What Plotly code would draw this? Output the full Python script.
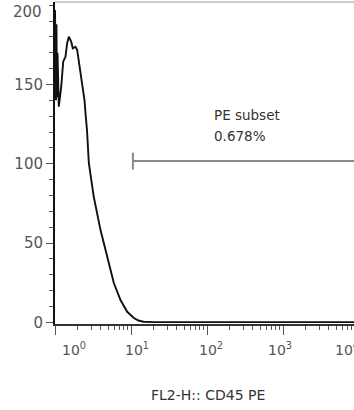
import math
import plotly.graph_objects as go

# ---- data ----
fl2_intensity = [1.0, 1.008, 1.016, 1.03, 1.045, 1.06, 1.079, 1.10, 1.122, 1.208, 1.282, 1.374,
                 1.445, 1.521, 1.633, 1.714, 1.862, 1.959, 2.118, 2.280, 2.443, 2.518,
                 2.636, 2.786, 3.236, 3.972, 4.864, 5.943, 7.278, 8.913, 10.89, 12.55,
                 14.59, 20.0, 50.0, 100.0, 1000.0, 10000.0]
cell_count = [197, 150, 192, 140, 188, 142, 170, 138, 136, 148.6, 164.4, 167.5,
              176, 180.1, 177, 172.8, 173.8, 171.7, 161.2, 150.7, 140.2, 132,
              121.3, 100.5, 79.2, 58.2, 41.4, 24.8, 14.1, 6.7, 2.8, 1.2,
              0.4, 0.2, 0.2, 0.2, 0.2, 0.2]

y_tick_vals = [0, 50, 100, 150, 200]
y_tick_labels = ["0", "50", "100", "150", "200"]
y_minor_vals = [v for v in range(0, 201, 10)]
x_decades = [0, 1, 2, 3, 4]
x_tick_labels = ["10<sup>0</sup>", "10<sup>1</sup>", "10<sup>2</sup>", "10<sup>3</sup>", "10<sup>4</sup>"]
x_minor_vals = [m * 10 ** d for d in range(0, 4) for m in range(2, 10)]

gate_low = 10.6
gate_high = 100000
gate_level = 101.7
gate_name = "PE subset"
gate_percent = "0.678%"
axis_title = "FL2-H:: CD45 PE"

# ---- style ----
W, H = 354, 410
ML, MR, MT, MB = 55, 0, 2, 86
x_max_log = (W - ML) / 76.0
label_xshift = [5, -8, -10, -17, -26]
FONT = "DejaVu Sans"
GREY = "#555555"
TEXT = "#333333"

fig = go.Figure()
fig.add_trace(go.Scatter(
    x=fl2_intensity, y=cell_count, mode="lines",
    line=dict(color="#111111", width=1.9), hoverinfo="skip", showlegend=False))
fig.add_trace(go.Scatter(
    x=[gate_low, gate_high], y=[gate_level, gate_level], mode="lines+markers",
    line=dict(color="#8a8a8a", width=2),
    marker=dict(symbol="line-ns", size=12, line=dict(color="#8a8a8a", width=2)),
    hoverinfo="skip", showlegend=False))

# the top label (200) is drawn as an annotation so it can sit below the frame edge
shown_y_labels = [lab if v < 200 else "" for v, lab in zip(y_tick_vals, y_tick_labels)]

fig.update_layout(
    width=W, height=H, margin=dict(l=ML, r=MR, t=MT, b=MB),
    paper_bgcolor="white", plot_bgcolor="white",
    font=dict(family=FONT, color=GREY, size=14),
    xaxis=dict(type="log", range=[0, x_max_log], showgrid=False, zeroline=False,
               showline=True, linecolor="#333333", linewidth=2,
               tickmode="array", tickvals=[10 ** d for d in x_decades], ticktext=[""] * 5,
               ticks="outside", ticklen=9, tickwidth=1, tickcolor=GREY,
               minor=dict(tickmode="array", tickvals=x_minor_vals, ticks="outside",
                          ticklen=4, tickwidth=1, tickcolor=GREY)),
    yaxis=dict(range=[-1, 202], showgrid=False, zeroline=False,
               showline=True, linecolor="#111111", linewidth=2,
               tickmode="array", tickvals=y_tick_vals, ticktext=shown_y_labels,
               ticks="outside", ticklen=7, tickwidth=1, tickcolor=GREY,
               tickfont=dict(size=15, color=GREY, family=FONT),
               minor=dict(tickmode="array", tickvals=y_minor_vals, ticks="outside",
                          ticklen=4, tickwidth=1, tickcolor=GREY)),
)

# 200 label
fig.add_annotation(xref="paper", yref="y", x=0, y=y_tick_vals[-1], text=y_tick_labels[-1],
                   showarrow=False, xanchor="right", yanchor="middle", xshift=-11, yshift=-7,
                   font=dict(size=15, color=GREY, family=FONT))

# top border
fig.add_shape(type="line", xref="paper", yref="paper", x0=0, x1=1, y0=1, y1=1,
              line=dict(color="#9a9a9a", width=1))

# x tick labels
for d, lab, sh in zip(x_decades, x_tick_labels, label_xshift):
    fig.add_annotation(xref="paper", yref="paper", x=d / x_max_log, y=0,
                       text=lab, showarrow=False, xanchor="left", yanchor="top",
                       xshift=sh, yshift=-14, font=dict(size=14, color=GREY, family=FONT))

# axis title
fig.add_annotation(xref="paper", yref="paper", x=(208 - ML) / (W - ML), y=0,
                   text=axis_title, showarrow=False, xanchor="center", yanchor="middle",
                   yshift=-71, font=dict(size=14, color=TEXT, family=FONT))

# gate text (left aligned, placed around the gate's centre)
gate_mid = (math.log10(gate_low) + 4.0) / 2
for txt, ys in ((gate_name, 46), (gate_percent, 25)):
    fig.add_annotation(xref="x", yref="y", x=gate_mid, y=gate_level, text=txt,
                       showarrow=False, xanchor="left", yanchor="middle",
                       xshift=-34, yshift=ys,
                       font=dict(size=13.5, color=TEXT, family=FONT))

fig.write_html("out.html")
